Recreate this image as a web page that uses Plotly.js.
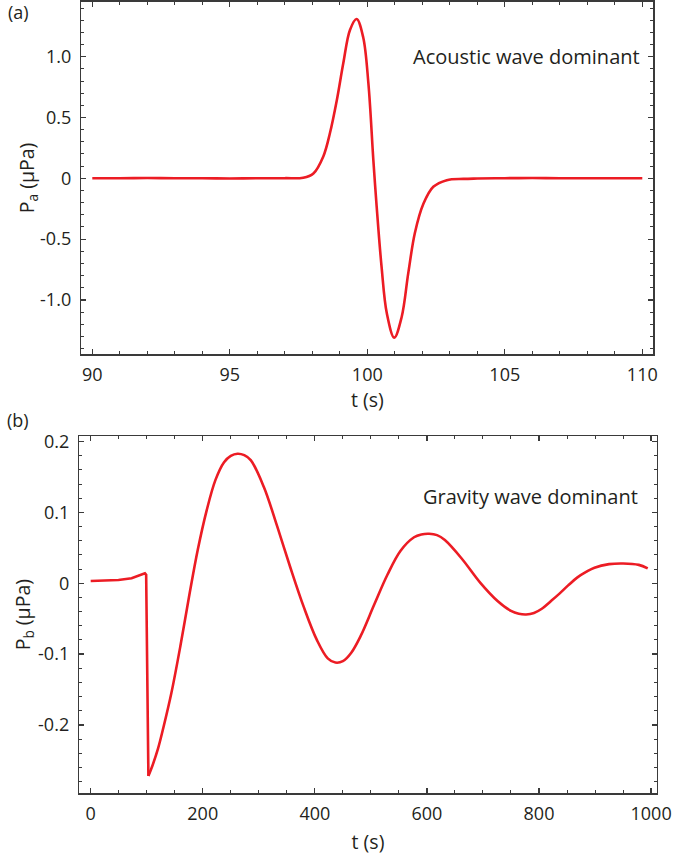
<!DOCTYPE html>
<html>
<head>
<meta charset="utf-8">
<script src="https://cdn.plot.ly/plotly-3.0.1.min.js"></script>
<style>html,body{margin:0;padding:0;background:#fff;}#chart{width:690px;height:855px;}</style>
</head>
<body>
<div id="chart"></div>
<script>
// Panel (a): acoustic wave dominant
const tA = [90, 91, 92, 93, 94, 95, 96, 97, 97.67, 98.04, 98.40, 98.64, 98.89, 99.13, 99.37, 99.61, 99.85, 100.04, 100.22, 100.34, 100.52, 100.71, 100.98, 101.25, 101.49, 101.73, 102.04, 102.4, 102.89, 103.5, 104, 105, 106, 107, 108, 109, 110];
const pA = [0, 0, 0.002, 0.001, 0, -0.001, 0, 0.001, 0.005, 0.04, 0.18, 0.37, 0.64, 0.95, 1.22, 1.31, 1.16, 0.78, 0.15, -0.23, -0.73, -1.11, -1.31, -1.14, -0.78, -0.45, -0.21, -0.07, -0.015, -0.005, -0.002, 0.001, 0.002, 0.001, 0, 0.001, 0];

// Panel (b): gravity wave dominant
const tB = [0, 49.6, 73, 96.8, 99, 103, 110, 120, 130, 144, 160, 175.5, 191, 207, 222.7, 238, 250, 262, 274, 285.6, 309, 333, 356, 380, 403.6, 423, 436.7, 450, 465, 482, 506, 529.5, 553, 577, 590, 604, 618, 632, 663, 695, 726, 750, 764, 777, 791, 805, 820, 836, 852, 868, 884, 899, 925, 950, 978, 994];
const pB = [0.0033, 0.0047, 0.007, 0.014, 0.012, -0.272, -0.258, -0.234, -0.203, -0.155, -0.089, -0.019, 0.047, 0.103, 0.146, 0.171, 0.180, 0.183, 0.181, 0.174, 0.136, 0.080, 0.023, -0.033, -0.080, -0.106, -0.112, -0.110, -0.098, -0.074, -0.030, 0.012, 0.046, 0.065, 0.069, 0.070, 0.068, 0.061, 0.034, 0.001, -0.025, -0.039, -0.043, -0.044, -0.042, -0.036, -0.026, -0.015, -0.003, 0.008, 0.016, 0.022, 0.027, 0.028, 0.026, 0.021];

// Tick labels
const xTickValsA = [90, 95, 100, 105, 110];
const xTickTextA = ["90", "95", "100", "105", "110"];
const yTickValsA = [1.0, 0.5, 0, -0.5, -1.0];
const yTickTextA = ["1.0", "0.5", "0", "-0.5", "-1.0"];
const xTickValsB = [0, 200, 400, 600, 800, 1000];
const xTickTextB = ["0", "200", "400", "600", "800", "1000"];
const yTickValsB = [0.2, 0.1, 0, -0.1, -0.2];
const yTickTextB = ["0.2", "0.1", "0", "-0.1", "-0.2"];

const lineRed = '#ec1c24';
const txt = '#231f20';
const axCol = '#3a3a3a';
const FONT = 'Open Sans, sans-serif';
const kB = 5; // index of the sharp trough in panel (b)

const traces = [
  {x: tA, y: pA, xaxis: 'x', yaxis: 'y', mode: 'lines', line: {color: lineRed, width: 2.6, shape: 'spline', smoothing: 1}, hoverinfo: 'skip'},
  {x: tB.slice(0, kB + 1), y: pB.slice(0, kB + 1), xaxis: 'x2', yaxis: 'y2', mode: 'lines', line: {color: lineRed, width: 2.6}, hoverinfo: 'skip'},
  {x: tB.slice(kB), y: pB.slice(kB), xaxis: 'x2', yaxis: 'y2', mode: 'lines', line: {color: lineRed, width: 2.6, shape: 'spline', smoothing: 1}, hoverinfo: 'skip'}
];

function axisBase() {
  return {
    showline: true, linecolor: axCol, linewidth: 1.5, mirror: 'allticks',
    ticks: 'inside', ticklen: 5, tickwidth: 1.2, tickcolor: axCol,
    showgrid: false, zeroline: false, fixedrange: true,
    tickfont: {family: FONT, size: 18, color: txt},
    tickmode: 'array'
  };
}

const layout = {
  width: 690, height: 855,
  margin: {l: 0, r: 0, t: 0, b: 0},
  paper_bgcolor: '#fff', plot_bgcolor: '#fff',
  showlegend: false,
  font: {family: FONT, color: txt},
  xaxis: Object.assign(axisBase(), {
    domain: [81.3/690, 653.3/690], anchor: 'y', range: [89.6, 110.4],
    tickvals: xTickValsA, ticktext: xTickTextA,
    minor: {dtick: 1, ticks: 'inside', ticklen: 3, tickwidth: 1, tickcolor: axCol, showgrid: false},
    ticklabelstandoff: 4,
    title: {text: 't (s)', font: {family: FONT, size: 19.5, color: txt}, standoff: 4}
  }),
  yaxis: Object.assign(axisBase(), {
    domain: [1 - 354.3/855, 1 - 1.7/855], anchor: 'x', range: [-1.447, 1.452],
    tickvals: yTickValsA, ticktext: yTickTextA,
    minor: {dtick: 0.1, ticks: 'inside', ticklen: 3, tickwidth: 1, tickcolor: axCol, showgrid: false},
    ticklabelstandoff: 5,
    title: {text: 'P<sub>a</sub> (μPa)', font: {family: FONT, size: 19.5, color: txt}, standoff: 0}
  }),
  xaxis2: Object.assign(axisBase(), {
    domain: [79.3/690, 656.7/690], anchor: 'y2', range: [-20.3, 1010],
    tickvals: xTickValsB, ticktext: xTickTextB,
    minor: {dtick: 50, ticks: 'inside', ticklen: 3, tickwidth: 1, tickcolor: axCol, showgrid: false},
    ticklabelstandoff: 4,
    title: {text: 't (s)', font: {family: FONT, size: 19.5, color: txt}, standoff: 12}
  }),
  yaxis2: Object.assign(axisBase(), {
    domain: [1 - 793.3/855, 1 - 436/855], anchor: 'x2', range: [-0.2966, 0.208],
    tickvals: yTickValsB, ticktext: yTickTextB,
    minor: {dtick: 0.02, ticks: 'inside', ticklen: 3, tickwidth: 1, tickcolor: axCol, showgrid: false},
    ticklabelstandoff: 5,
    title: {text: 'P<sub>b</sub> (μPa)', font: {family: FONT, size: 19.5, color: txt}, standoff: 0}
  }),
  annotations: [
    {text: '(a)', xref: 'paper', yref: 'paper', x: 18/690, y: 1 - 12/855, xanchor: 'center', yanchor: 'middle', showarrow: false, font: {family: FONT, size: 18, color: txt}},
    {text: '(b)', xref: 'paper', yref: 'paper', x: 18/690, y: 1 - 420/855, xanchor: 'center', yanchor: 'middle', showarrow: false, font: {family: FONT, size: 18, color: txt}},
    {text: 'Acoustic wave dominant', xref: 'paper', yref: 'paper', x: 642/690, y: 1 - 57/855, xanchor: 'right', yanchor: 'middle', showarrow: false, font: {family: FONT, size: 20, color: txt}},
    {text: 'Gravity wave dominant', xref: 'paper', yref: 'paper', x: 640/690, y: 1 - 496/855, xanchor: 'right', yanchor: 'middle', showarrow: false, font: {family: FONT, size: 20, color: txt}}
  ]
};

Plotly.newPlot('chart', traces, layout, {displayModeBar: false, staticPlot: true});
</script>
</body>
</html>
